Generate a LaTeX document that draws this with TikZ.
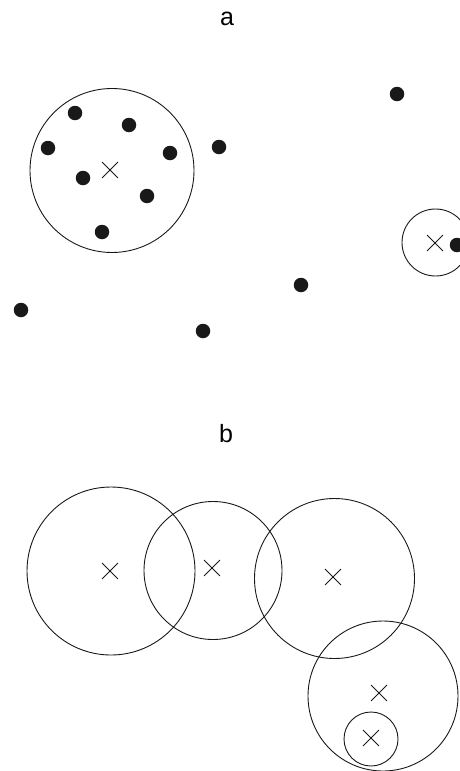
\documentclass[tikz,border=0pt]{standalone}
\usepackage{fontspec}
\setmainfont{Liberation Sans}
\usetikzlibrary{shapes.misc}
\tikzset{
  datum/.style={circle, fill=black!90, inner sep=0pt, minimum size=14.5pt},
  centre/.style={cross out, draw=black!90, line width=0.9pt, inner sep=0pt, minimum size=15pt},
  ring/.style={draw=black!90, line width=0.9pt},
  panel/.style={font=\fontsize{25}{30}\selectfont}
}
\begin{document}
\begin{tikzpicture}[x=1pt,y=-1pt]
    \useasboundingbox (0,0) rectangle (460,771);
    \clip (0,0) rectangle (460,771);
    % a
    \node[panel] (la) at (227,19) {a};
    \foreach \x/\y [count=\i] in {75/113,129/125,48/148,170/153,219/147,83/178,147/196,102/232,397/94,301/285,21/310,203/331,457/245}
        \node[datum] (d\i) at (\x,\y) {};
    \node[centre] (ma1) at (110,170) {};
    \node[centre] (ma2) at (435,243) {};
    \draw[ring] (112,170.5) circle[radius=82pt];
    \draw[ring] (435.5,242.5) circle[radius=33.5pt];
    % b
    \node[panel] (lb) at (226,434) {b};
    \foreach \x/\y [count=\i] in {110/571,212/568,333/577,379/693,371/738}
        \node[centre] (mb\i) at (\x,\y) {};
    \draw[ring] (111,571) circle[radius=84pt];
    \draw[ring] (213,570.5) circle[radius=69pt];
    \draw[ring] (334.5,578.5) circle[radius=80pt];
    \draw[ring] (383,696) circle[radius=75pt];
    \draw[ring] (371,739) circle[radius=27pt];
\end{tikzpicture}
\end{document}
